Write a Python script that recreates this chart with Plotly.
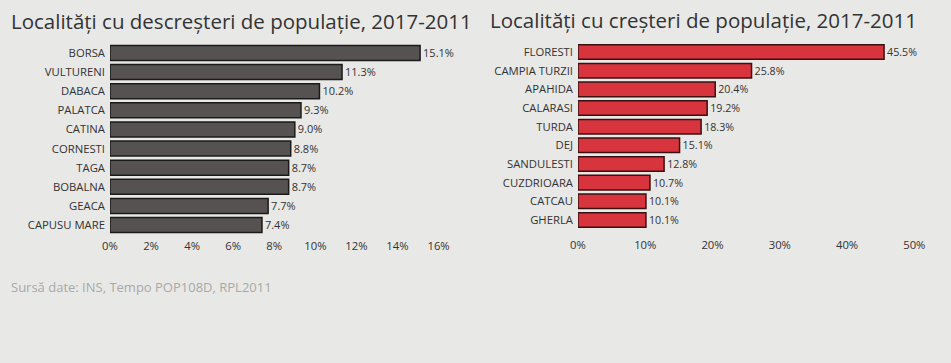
import plotly.graph_objects as go

W, H = 951, 363

dec_names = ["BORSA", "VULTURENI", "DABACA", "PALATCA", "CATINA", "CORNESTI",
             "TAGA", "BOBALNA", "GEACA", "CAPUSU MARE"]
dec_values = [15.1, 11.3, 10.2, 9.3, 9.0, 8.8, 8.7, 8.7, 7.7, 7.4]

inc_names = ["FLORESTI", "CAMPIA TURZII", "APAHIDA", "CALARASI", "TURDA", "DEJ",
             "SANDULESTI", "CUZDRIOARA", "CATCAU", "GHERLA"]
inc_values = [45.5, 25.8, 20.4, 19.2, 18.3, 15.1, 12.8, 10.7, 10.1, 10.1]

left_ticks = [0, 2, 4, 6, 8, 10, 12, 14, 16]
right_ticks = [0, 10, 20, 30, 40, 50]

title_left = "Localități cu descreșteri de populație, 2017-2011"
title_right = "Localități cu creșteri de populație, 2017-2011"
source = "Sursă date: INS, Tempo POP108D, RPL2011"

FONT = "Open Sans"
BG = "#e8e8e6"


def fx(px):
    return px / W


def fy(px):
    return 1 - px / H


fig = go.Figure()

fig.add_trace(go.Bar(
    x=dec_values, y=dec_names, orientation="h",
    marker=dict(color="#575252", line=dict(color="#1a1a1a", width=1.5)),
    width=0.78,
    text=[f"{v:.1f}%" for v in dec_values], textposition="outside",
    textfont=dict(size=12.5, color="#333333", family=FONT),
    cliponaxis=False, xaxis="x", yaxis="y", showlegend=False,
))
fig.add_trace(go.Bar(
    x=inc_values, y=inc_names, orientation="h",
    marker=dict(color="#d8343d", line=dict(color="#3a1010", width=1.5)),
    width=0.78,
    text=[f"{v:.1f}%" for v in inc_values], textposition="outside",
    textfont=dict(size=12.5, color="#333333", family=FONT),
    cliponaxis=False, xaxis="x2", yaxis="y2", showlegend=False,
))

axis_font = dict(size=11.3, color="#333333", family=FONT)

fig.update_layout(
    template="none",
    width=W, height=H,
    margin=dict(l=0, r=0, t=0, b=0, autoexpand=False),
    paper_bgcolor=BG, plot_bgcolor=BG,
    font=dict(family=FONT),
    xaxis=dict(domain=[fx(110), fx(440)], range=[0, 16.07], anchor="y",
               tickvals=left_ticks, ticktext=[f"{t}%" for t in left_ticks],
               showgrid=False, zeroline=False, showline=False, ticks="",
               ticklabelstandoff=3, automargin=False, tickfont=axis_font),
    yaxis=dict(domain=[fy(234.6), fy(43.4)], anchor="x",
               categoryorder="array", categoryarray=dec_names[::-1],
               showgrid=False, zeroline=False, showline=False, ticks="",
               ticklabelstandoff=4, automargin=False, tickfont=axis_font),
    xaxis2=dict(domain=[fx(578), fx(915)], range=[0, 50.1], anchor="y2",
                tickvals=right_ticks, ticktext=[f"{t}%" for t in right_ticks],
                showgrid=False, zeroline=False, showline=False, ticks="",
                ticklabelstandoff=7, automargin=False, tickfont=axis_font),
    yaxis2=dict(domain=[fy(229.3), fy(42.7)], anchor="x2",
                categoryorder="array", categoryarray=inc_names[::-1],
                showgrid=False, zeroline=False, showline=False, ticks="",
                ticklabelstandoff=4, automargin=False, tickfont=axis_font),
    annotations=[
        dict(text=title_left, x=fx(9), y=fy(21), xref="paper", yref="paper",
             xanchor="left", yanchor="middle", showarrow=False,
             font=dict(size=20.5, color="#333333", family=FONT)),
        dict(text=title_right, x=fx(488), y=fy(20), xref="paper", yref="paper",
             xanchor="left", yanchor="middle", showarrow=False,
             font=dict(size=20.5, color="#333333", family=FONT)),
        dict(text=source, x=fx(9), y=fy(287), xref="paper", yref="paper",
             xanchor="left", yanchor="middle", showarrow=False,
             font=dict(size=13, color="#a8a8a8", family=FONT)),
    ],
)

fig.write_html(
    "out.html",
    config={"displayModeBar": False},
    post_script="document.body.style.margin='0';document.body.style.background='%s';" % BG,
)
